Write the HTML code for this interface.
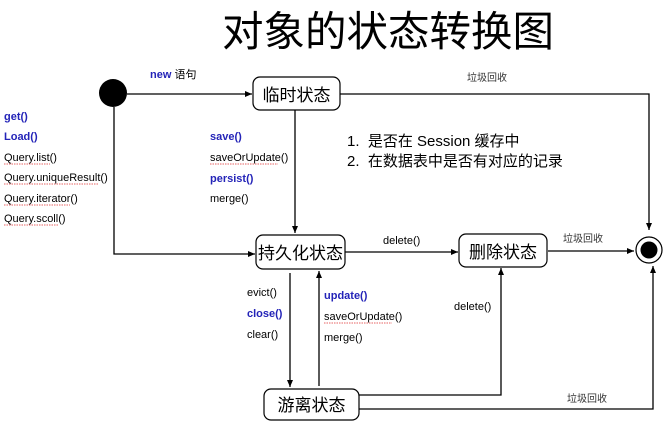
<!DOCTYPE html>
<html><head><meta charset="utf-8"><style>
html,body{margin:0;padding:0;background:#fff;}
svg{display:block;}
text{font-family:"Liberation Sans","Noto Sans CJK SC",sans-serif;}
.s{font-size:11px;fill:#000;}
.b{font-size:11px;fill:#2424b8;font-weight:bold;}
.z{font-size:10px;fill:#333;}
.box{fill:#fff;stroke:#000;stroke-width:1.2;}
.ln{stroke:#000;stroke-width:1.3;fill:none;}
.w{stroke:#e03030;stroke-width:0.8;fill:none;stroke-dasharray:1.5 1;}
</style></head><body>
<svg width="668" height="426" viewBox="0 0 668 426" xmlns="http://www.w3.org/2000/svg">
<defs><marker id="a" markerWidth="8" markerHeight="8" refX="7" refY="4" orient="auto" markerUnits="userSpaceOnUse"><path d="M0,1 L7,4 L0,7 Z" fill="#000"/></marker></defs>
<text x="388" y="46" font-size="41.5" text-anchor="middle" fill="#000">对象的状态转换图</text>

<circle cx="113" cy="93" r="14" fill="#000"/>
<line class="ln" x1="127" y1="94" x2="252" y2="94" marker-end="url(#a)"/>
<polyline class="ln" points="114,107 114,254 255,254" marker-end="url(#a)"/>
<polyline class="ln" points="340,94 649,94 649,230" marker-end="url(#a)"/>
<line class="ln" x1="295" y1="110" x2="295" y2="233" marker-end="url(#a)"/>
<line class="ln" x1="345" y1="252" x2="458" y2="252" marker-end="url(#a)"/>
<line class="ln" x1="548" y1="251" x2="634" y2="251" marker-end="url(#a)"/>
<line class="ln" x1="290" y1="273" x2="290" y2="387" marker-end="url(#a)"/>
<line class="ln" x1="319" y1="386" x2="319" y2="271" marker-end="url(#a)"/>
<polyline class="ln" points="359,395 501,395 501,268" marker-end="url(#a)"/>
<polyline class="ln" points="359,409 653,409 653,266" marker-end="url(#a)"/>

<circle cx="649" cy="250" r="13" fill="#fff" stroke="#000" stroke-width="1.2"/>
<circle cx="649" cy="250" r="8.5" fill="#000"/>

<rect class="box" x="253" y="77" width="87" height="33" rx="7"/>
<text x="296.5" y="101" font-size="17" text-anchor="middle">临时状态</text>
<rect class="box" x="256" y="235" width="89" height="34" rx="7"/>
<text x="300.5" y="259" font-size="17" text-anchor="middle">持久化状态</text>
<rect class="box" x="459" y="234" width="88" height="33" rx="7"/>
<text x="503" y="258" font-size="17" text-anchor="middle">删除状态</text>
<rect class="box" x="264" y="389" width="95" height="31" rx="7"/>
<text x="311.5" y="411" font-size="17" text-anchor="middle">游离状态</text>

<text x="150" y="78" class="b" font-size="12">new <tspan font-weight="normal" fill="#000">语句</tspan></text>
<text x="467" y="81" class="z">垃圾回收</text>
<text x="563" y="242" class="z">垃圾回收</text>
<text x="567" y="402" class="z">垃圾回收</text>

<text x="4" y="120" class="b">get()</text>
<text x="4" y="140" class="b">Load()</text>
<text x="4" y="161" class="s">Query.list()</text>
<text x="4" y="181" class="s">Query.uniqueResult()</text>
<text x="4" y="202" class="s">Query.iterator()</text>
<text x="4" y="222" class="s">Query.scoll()</text>
<path class="w" d="M4,164 H50 M4,184 H98 M4,205 H70 M4,225 H58"/>

<text x="210" y="140" class="b">save()</text>
<text x="210" y="161" class="s">saveOrUpdate()</text>
<path class="w" d="M210,164 H278"/>
<text x="210" y="182" class="b">persist()</text>
<text x="210" y="202" class="s">merge()</text>

<text x="347" y="146" font-size="15">1.&#160;&#160;是否在 Session 缓存中</text>
<text x="347" y="166" font-size="15">2.&#160;&#160;在数据表中是否有对应的记录</text>

<text x="383" y="244" class="s">delete()</text>
<text x="247" y="296" class="s">evict()</text>
<text x="247" y="317" class="b">close()</text>
<text x="247" y="338" class="s">clear()</text>
<text x="324" y="299" class="b">update()</text>
<text x="324" y="320" class="s">saveOrUpdate()</text>
<path class="w" d="M324,323 H392"/>
<text x="324" y="341" class="s">merge()</text>
<text x="454" y="310" class="s">delete()</text>
</svg>
</body></html>
